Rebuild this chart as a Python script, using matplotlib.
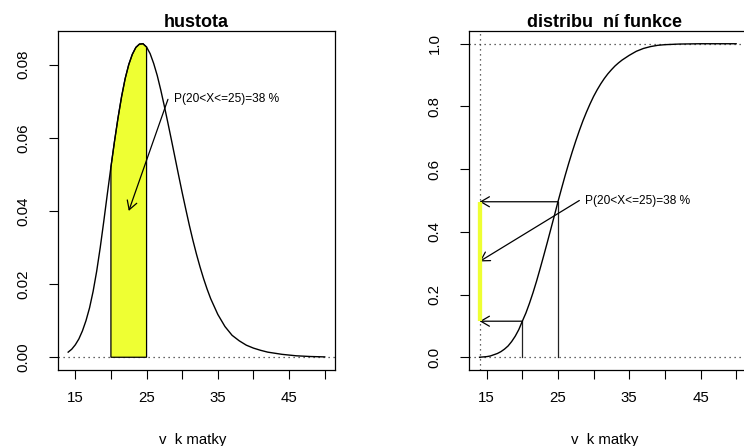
import matplotlib
matplotlib.use('Agg')
import matplotlib.pyplot as plt

# ---------------- data ----------------
dens_x = [14.0, 14.5, 15.0, 15.5, 16.0, 16.5, 17.0, 17.5, 18.0, 18.5, 19.0, 19.5,
          20.0, 20.5, 21.0, 21.5, 22.0, 22.5, 23.0, 23.5, 24.0, 24.5, 25.0, 25.5,
          26.0, 26.5, 27.0, 27.5, 28.0, 28.5, 29.0, 29.5, 30.0, 30.5, 31.0, 31.5,
          32.0, 32.5, 33.0, 33.5, 34.0, 35.0, 36.0, 37.0, 38.0, 39.0, 40.0, 41.0,
          42.0, 43.0, 44.0, 45.0, 46.0, 48.0, 50.0]
dens_y = [0.0014, 0.0022, 0.0034, 0.0050, 0.0072, 0.0100, 0.0135, 0.0180, 0.0235,
          0.0300, 0.0372, 0.0447, 0.0520, 0.0590, 0.0655, 0.0713, 0.0762, 0.0800,
          0.0828, 0.0847, 0.0856, 0.0857, 0.0848, 0.0830, 0.0803, 0.0770, 0.0730,
          0.0686, 0.0640, 0.0593, 0.0545, 0.0497, 0.0450, 0.0405, 0.0361, 0.0320,
          0.0282, 0.0247, 0.0215, 0.0186, 0.0160, 0.0117, 0.0084, 0.0060, 0.0045,
          0.0033, 0.0025, 0.0019, 0.0014, 0.0011, 0.0008, 0.0006, 0.0004, 0.0002,
          0.0001]

cdf_x = [14.0, 14.5, 15.0, 15.5, 16.0, 16.5, 17.0, 17.5, 18.0, 18.5, 19.0, 19.5,
         20.0, 20.5, 21.0, 21.5, 22.0, 22.5, 23.0, 23.5, 24.0, 24.5, 25.0, 25.5,
         26.0, 26.5, 27.0, 27.5, 28.0, 28.5, 29.0, 29.5, 30.0, 30.5, 31.0, 31.5,
         32.0, 32.5, 33.0, 33.5, 34.0, 35.0, 36.0, 37.0, 38.0, 39.0, 40.0, 42.0,
         45.0, 50.0]
cdf_y = [0.000, 0.001, 0.002, 0.004, 0.008, 0.012, 0.018, 0.026, 0.036, 0.050,
         0.067, 0.088, 0.115, 0.141, 0.172, 0.206, 0.243, 0.283, 0.324, 0.366,
         0.409, 0.452, 0.496, 0.538, 0.579, 0.618, 0.655, 0.690, 0.723, 0.754,
         0.782, 0.808, 0.832, 0.853, 0.872, 0.889, 0.904, 0.917, 0.929, 0.939,
         0.948, 0.963, 0.976, 0.985, 0.991, 0.995, 0.997, 0.999, 1.000, 1.000]

a, b = 20, 25
F_a, F_b = 0.115, 0.496
x_lo = 14
label = "P(20<X<=25)=38 %"
xticks = [15, 20, 25, 30, 35, 40, 45, 50]
xticklabels = ["15", "", "25", "", "35", "", "45", ""]
yticks_left = [0.00, 0.02, 0.04, 0.06, 0.08]
yticklabels_left = ["0.00", "0.02", "0.04", "0.06", "0.08"]
yticks_right = [0.0, 0.2, 0.4, 0.6, 0.8, 1.0]
yticklabels_right = ["0.0", "0.2", "0.4", "0.6", "0.8", "1.0"]
title_left = "hustota"
title_right = "distribu  ní funkce"
xlabel_text = "v  k matky"

# ---------------- figure ----------------
W, H = 744, 446
plt.rcParams['font.family'] = ['Liberation Sans', 'DejaVu Sans']
fig = plt.figure(figsize=(W / 100, H / 100), dpi=100)

def px(x0, y0, x1, y1):
    return [x0 / W, 1 - y1 / H, (x1 - x0) / W, (y1 - y0) / H]

axL = fig.add_axes(px(57.9, 31.2, 335.0, 369.8))
axR = fig.add_axes(px(469.3, 31.2, 746.4, 369.8))

tick_fs = 10.8
dot = (0, (1, 3))
yellow = '#EEFF33'

def style(ax, yt, ytl):
    ax.set_xlim(12.56, 51.44)
    ax.set_xticks(xticks)
    ax.set_xticklabels(xticklabels)
    ax.set_yticks(yt)
    ax.set_yticklabels(ytl, rotation=90, va='center')
    ax.tick_params(axis='both', direction='out', length=6.5, width=0.8,
                   labelsize=tick_fs, colors='black')
    ax.tick_params(axis='x', pad=8.8)
    ax.tick_params(axis='y', pad=13.5)
    for s in ax.spines.values():
        s.set_linewidth(0.9)
        s.set_color('black')

def arrow(ax, start, end):
    ax.annotate('', xy=end, xytext=start,
                arrowprops=dict(arrowstyle='->,head_length=0.62,head_width=0.36',
                                lw=0.9, color='black', shrinkA=0, shrinkB=0,
                                mutation_scale=10))

# ----- left: density -----
ymax = max(dens_y)
axL.set_ylim(-0.04 * ymax, 1.04 * ymax)
style(axL, yticks_left, yticklabels_left)
axL.axhline(0, color='#333333', lw=0.9, linestyle=dot)
px_ = [a] + [x for x in dens_x if a <= x <= b] + [b]
py_ = [0] + [y for x, y in zip(dens_x, dens_y) if a <= x <= b] + [0]
axL.fill(px_, py_, facecolor=yellow, edgecolor='black', lw=0.9, zorder=2)
axL.plot(dens_x, dens_y, color='black', lw=1.0, zorder=3)
arrow(axL, (28, 0.0705), (22.5, 0.040))
axL.annotate(label, xy=(28, 0.0705), xytext=(4.3, 0), textcoords='offset points',
             ha='left', va='center', fontsize=8.6)

# ----- right: distribution function -----
axR.set_ylim(-0.04, 1.04)
style(axR, yticks_right, yticklabels_right)
axR.axhline(0, color='#333333', lw=0.9, linestyle=dot)
axR.axhline(1, color='#333333', lw=0.9, linestyle=dot)
axR.axvline(x_lo, color='#333333', lw=0.9, linestyle=dot)
axR.plot(cdf_x, cdf_y, color='black', lw=1.0, zorder=3)
axR.plot([a, a], [0, F_a], color='#222222', lw=0.9)
axR.plot([b, b], [0, F_b], color='#222222', lw=0.9)
arrow(axR, (a, F_a), (x_lo, F_a))
arrow(axR, (b, F_b), (x_lo, F_b))
axR.plot([x_lo, x_lo], [F_a, F_b], color=yellow, lw=3.1, solid_capstyle='butt', zorder=4)
arrow(axR, (28, 0.50), (x_lo, (F_a + F_b) / 2))
axR.annotate(label, xy=(28, 0.50), xytext=(4.3, 0), textcoords='offset points',
             ha='left', va='center', fontsize=8.6)

# ----- titles and axis labels -----
fig.text(196.3 / W, 1 - 26.7 / H, title_left, ha='center', va='baseline',
         fontsize=13, fontweight='bold')
fig.text(604.3 / W, 1 - 26.7 / H, title_right, ha='center', va='baseline',
         fontsize=13, fontweight='bold')
fig.text(193.0 / W, 1 - 443.7 / H, xlabel_text, ha='center', va='baseline',
         fontsize=tick_fs)
fig.text(604.5 / W, 1 - 443.7 / H, xlabel_text, ha='center', va='baseline',
         fontsize=tick_fs)

fig.savefig('out.png', dpi=100)
